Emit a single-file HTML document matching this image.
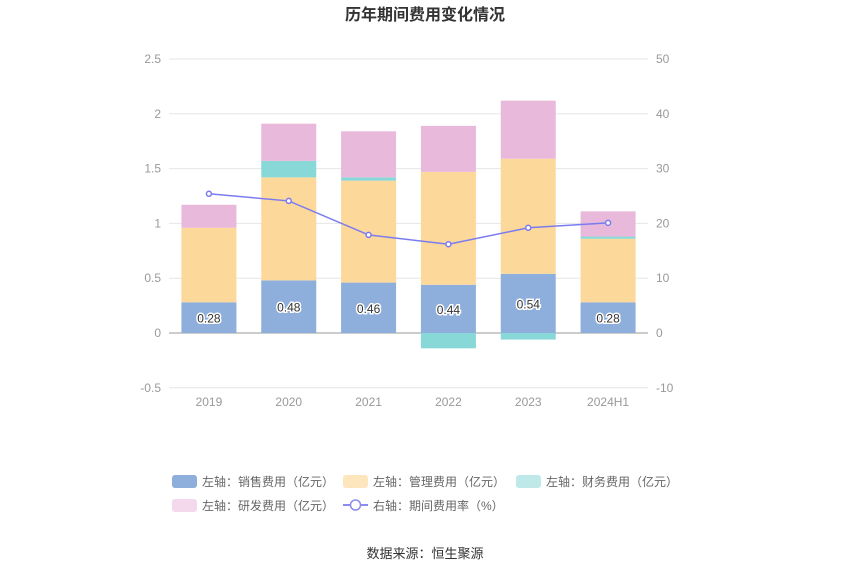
<!DOCTYPE html>
<html><head><meta charset="utf-8"><style>
body{margin:0;background:#fff;font-family:"Liberation Sans","Noto Sans CJK SC",sans-serif;}
svg text{font-family:"Liberation Sans","Noto Sans CJK SC",sans-serif;}
</style></head><body>
<svg id="c" width="850" height="575">
<text x="425" y="20" text-anchor="middle" font-size="16" font-weight="bold" fill="#333">历年期间费用变化情况</text>
<g id="grid"></g><g id="bars"></g><g id="line"></g>
<g id="legend" font-size="12" fill="#666">
<g><rect x="172" y="475" width="25" height="13" rx="3" fill="#8eaedc"/><text x="202" y="486">左轴：销售费用（亿元）</text></g>
<g><rect x="343" y="475" width="25" height="13" rx="3" fill="#fde5be"/><text x="373" y="486">左轴：管理费用（亿元）</text></g>
<g><rect x="516" y="475" width="25" height="13" rx="3" fill="#bfe9e9"/><text x="546" y="486">左轴：财务费用（亿元）</text></g>
<g><rect x="172" y="499" width="25" height="13" rx="3" fill="#f4d9ec"/><text x="202" y="510">左轴：研发费用（亿元）</text></g>
<g><line x1="343" y1="505" x2="368" y2="505" stroke="#8b8bf2" stroke-width="2"/><circle cx="355.5" cy="505" r="5" fill="#fff" stroke="#8b8bf2" stroke-width="1.5"/><text x="373" y="510">右轴：期间费用率（%）</text></g>
</g>
<text x="425" y="558" text-anchor="middle" font-size="13" fill="#333">数据来源：恒生聚源</text>
</svg>
<script>
const categories=["2019","2020","2021","2022","2023","2024H1"];
const sales=[0.28,0.48,0.46,0.44,0.54,0.28];
const admin=[0.68,0.94,0.93,1.03,1.05,0.58];
const finance=[0.00,0.15,0.03,-0.14,-0.06,0.02];
const rd=[0.21,0.34,0.42,0.42,0.53,0.23];
const rate=[25.4,24.1,17.9,16.2,19.2,20.1];
const leftTicks=[-0.5,0,0.5,1,1.5,2,2.5];
const rightTicks=[-10,0,10,20,30,40,50];
const NS="http://www.w3.org/2000/svg";
const x0=169,x1=648;
const yL=v=>333-v*109.6;
const yR=v=>333-v*5.48;
const bw=(x1-x0)/categories.length;
const xc=i=>x0+bw*(i+0.5);
function mk(p,t,a){const e=document.createElementNS(NS,t);for(const k in a)e.setAttribute(k,a[k]);document.getElementById(p).appendChild(e);return e;}
leftTicks.forEach((v,i)=>{
 const l=mk('grid','line',{x1:x0,x2:x1,y1:yL(v),y2:yL(v),stroke:v===0?'#999':'#e6e6e6'});
 
 
 const t=mk('grid','text',{x:161,y:yL(v)+4,'text-anchor':'end','font-size':12,fill:'#999'});t.textContent=v;
 
 
 const r=mk('grid','text',{x:656,y:yR(rightTicks[i])+4,'font-size':12,fill:'#999'});r.textContent=rightTicks[i];
 
 
});
categories.forEach((c,i)=>{
 const t=mk('grid','text',{x:xc(i),y:406,'text-anchor':'middle','font-size':12,fill:'#999'});t.textContent=c;
 
 
 const w=55,bx=xc(i)-w/2;
 let pos=0,neg=0;
 [[sales,'#8eaedc','bar-sales'],[admin,'#fdd89b','bar-admin'],[finance,'#88d8d8','bar-finance'],[rd,'#e8b9da','bar-rd']].forEach(([arr,col,nm])=>{
  const v=arr[i];let a,b;
  if(v>=0){a=pos;b=pos+v;pos=b;}else{a=neg;b=neg+v;neg=b;}
  const r=mk('bars','rect',{x:bx,y:Math.min(yL(a),yL(b)),width:w,height:Math.abs(yL(a)-yL(b)),fill:col});
  
  
 });
 const lb=mk('bars','text',{x:xc(i),y:(yL(0)+yL(sales[i]))/2+5,'text-anchor':'middle','font-size':12,fill:'#333',stroke:'#fff','stroke-width':3,'paint-order':'stroke'});
 lb.textContent=sales[i].toFixed(2);
 
 
});
const pl=mk('line','polyline',{points:rate.map((v,i)=>xc(i)+','+yR(v)).join(' '),fill:'none',stroke:'#7b7bf0','stroke-width':1.5});


rate.forEach((v,i)=>{
 const p=mk('line','circle',{cx:xc(i),cy:yR(v),r:2.5,fill:'#fff',stroke:'#7b7bf0','stroke-width':1.5});
 
 
});
</script>
</body></html>
